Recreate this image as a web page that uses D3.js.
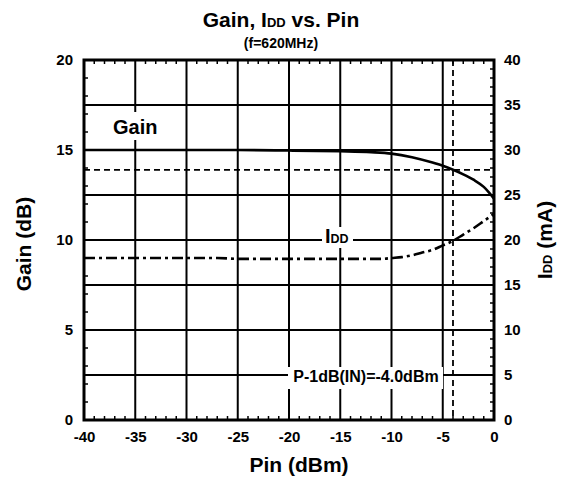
<!DOCTYPE html>
<html><head><meta charset="utf-8">
<script src="https://cdn.jsdelivr.net/npm/d3@7"></script>
<style>body{margin:0;background:#fff}text{font-family:"Liberation Sans",Arial,sans-serif;font-weight:bold;fill:#000}</style>
</head><body><svg id="c" width="562" height="478"></svg>
<script>
const gainPin = [-40,-35,-30,-25,-20,-15,-12,-10,-8,-6,-5,-4,-3,-2,-1,-0.5,0];
const gainVals = [15,15,15,15,14.97,14.93,14.88,14.8,14.6,14.3,14.12,13.9,13.65,13.35,12.95,12.65,12.3];
const iddPin = [-40,-35,-30,-27,-25,-20,-15,-11,-10,-9,-8,-7,-6,-5,-4,-3,-2,-1,0];
const iddVals = [18,18,18,18,17.9,17.9,17.9,17.9,18,18.1,18.3,18.6,18.9,19.4,19.9,20.6,21.3,22.1,22.9];
const xTicks = [-40,-35,-30,-25,-20,-15,-10,-5,0];
const gainTicks = [0,5,10,15,20];
const iddTicks = [0,5,10,15,20,25,30,35,40];
const p1dBPin = -4.0, p1dBGain = 13.9;

const svg = d3.select("#c");
const L=84, R=494, T=60, B=420;
const x = d3.scaleLinear().domain([-40,0]).range([L,R]);
const yG = d3.scaleLinear().domain([0,20]).range([B,T]);
const yI = d3.scaleLinear().domain([0,40]).range([B,T]);
const fmt = d => String(d);

// grid
const g = svg.append("g");
xTicks.slice(1,-1).forEach(v=>g.append("line").attr("x1",x(v)).attr("x2",x(v)).attr("y1",T).attr("y2",B).attr("stroke","#000").attr("stroke-width",2));
iddTicks.slice(1,-1).forEach(v=>g.append("line").attr("x1",L).attr("x2",R).attr("y1",yI(v)).attr("y2",yI(v)).attr("stroke","#000").attr("stroke-width",2));

// minor ticks
const tk = svg.append("g").attr("stroke","#000").attr("stroke-width",1.5);
d3.range(-39,0,1).forEach(v=>{ if(v%5!==0){
  tk.append("line").attr("x1",x(v)).attr("x2",x(v)).attr("y1",B).attr("y2",B-4);
  tk.append("line").attr("x1",x(v)).attr("x2",x(v)).attr("y1",T).attr("y2",T+4);}});
d3.range(1,20,1).forEach(v=>{ if(v%5!==0) tk.append("line").attr("x1",L).attr("x2",L+4).attr("y1",yG(v)).attr("y2",yG(v));});
d3.range(1,40,1).forEach(v=>{ if(v%5!==0) tk.append("line").attr("x1",R).attr("x2",R-4).attr("y1",yI(v)).attr("y2",yI(v));});

function styleTicks(s){ s.select(".domain").remove();
  s.selectAll("text").style("font-size","15px").style("font-family","Liberation Sans, Arial").style("font-weight","bold"); }
svg.append("g").attr("transform",`translate(0,${B})`)
  .call(d3.axisBottom(x).tickValues(xTicks).tickFormat(fmt).tickSize(0).tickPadding(11)).call(styleTicks);
svg.append("g").attr("transform",`translate(${L},0)`)
  .call(d3.axisLeft(yG).tickValues(gainTicks).tickFormat(fmt).tickSize(0).tickPadding(11)).call(styleTicks);
svg.append("g").attr("transform",`translate(${R},0)`)
  .call(d3.axisRight(yI).tickValues(iddTicks).tickFormat(fmt).tickSize(0).tickPadding(10)).call(styleTicks);

// dashed P1dB lines
svg.append("line").attr("x1",L).attr("x2",R).attr("y1",yG(p1dBGain)).attr("y2",yG(p1dBGain)).attr("stroke","#000").attr("stroke-width",1.8).attr("stroke-dasharray","6,4");
svg.append("line").attr("x1",x(p1dBPin)).attr("x2",x(p1dBPin)).attr("y1",T).attr("y2",B).attr("stroke","#000").attr("stroke-width",1.8).attr("stroke-dasharray","6,4");

// curves
const lg = d3.line().x((d,i)=>x(gainPin[i])).y(d=>yG(d)).curve(d3.curveMonotoneX);
svg.append("path").attr("d",lg(gainVals)).attr("fill","none").attr("stroke","#000").attr("stroke-width",2.6);
const li = d3.line().x((d,i)=>x(iddPin[i])).y(d=>yI(d)).curve(d3.curveMonotoneX);
svg.append("path").attr("d",li(iddVals)).attr("fill","none").attr("stroke","#000").attr("stroke-width",2.6).attr("stroke-dasharray","11,4,3,4");

// border
svg.append("rect").attr("x",L).attr("y",T).attr("width",R-L).attr("height",B-T).attr("fill","none").attr("stroke","#000").attr("stroke-width",3);

// in-plot labels
svg.append("rect").attr("x",106).attr("y",112).attr("width",60).attr("height",28).attr("fill","#fff");
svg.append("text").attr("x",113).attr("y",134).style("font-size","20px").text("Gain");
svg.append("rect").attr("x",322).attr("y",227).attr("width",31).attr("height",21).attr("fill","#fff");
const it = svg.append("text").attr("x",325).attr("y",243).style("font-size","20px");
it.append("tspan").text("I"); it.append("tspan").style("font-size","12.5px").text("DD");
svg.append("rect").attr("x",288).attr("y",367).attr("width",155).attr("height",22).attr("fill","#fff");
svg.append("text").attr("x",366).attr("y",382).attr("text-anchor","middle").style("font-size","16px").text("P-1dB(IN)=-4.0dBm");

// titles
const tt = svg.append("text").attr("x",281).attr("y",27).attr("text-anchor","middle").style("font-size","21px");
tt.append("tspan").text("Gain, I"); tt.append("tspan").style("font-size","13px").text("DD"); tt.append("tspan").text(" vs. Pin");
svg.append("text").attr("x",281).attr("y",48).attr("text-anchor","middle").style("font-size","14px").text("(f=620MHz)");
svg.append("text").attr("x",299).attr("y",472).attr("text-anchor","middle").style("font-size","21px").text("Pin (dBm)");
svg.append("text").attr("transform","translate(31,244) rotate(-90)").attr("text-anchor","middle").style("font-size","21px").text("Gain (dB)");
const ri = svg.append("text").attr("transform","translate(552,240) rotate(-90)").attr("text-anchor","middle").style("font-size","21px");
ri.append("tspan").text("I"); ri.append("tspan").style("font-size","13px").text("DD"); ri.append("tspan").text(" (mA)");
</script></body></html>
